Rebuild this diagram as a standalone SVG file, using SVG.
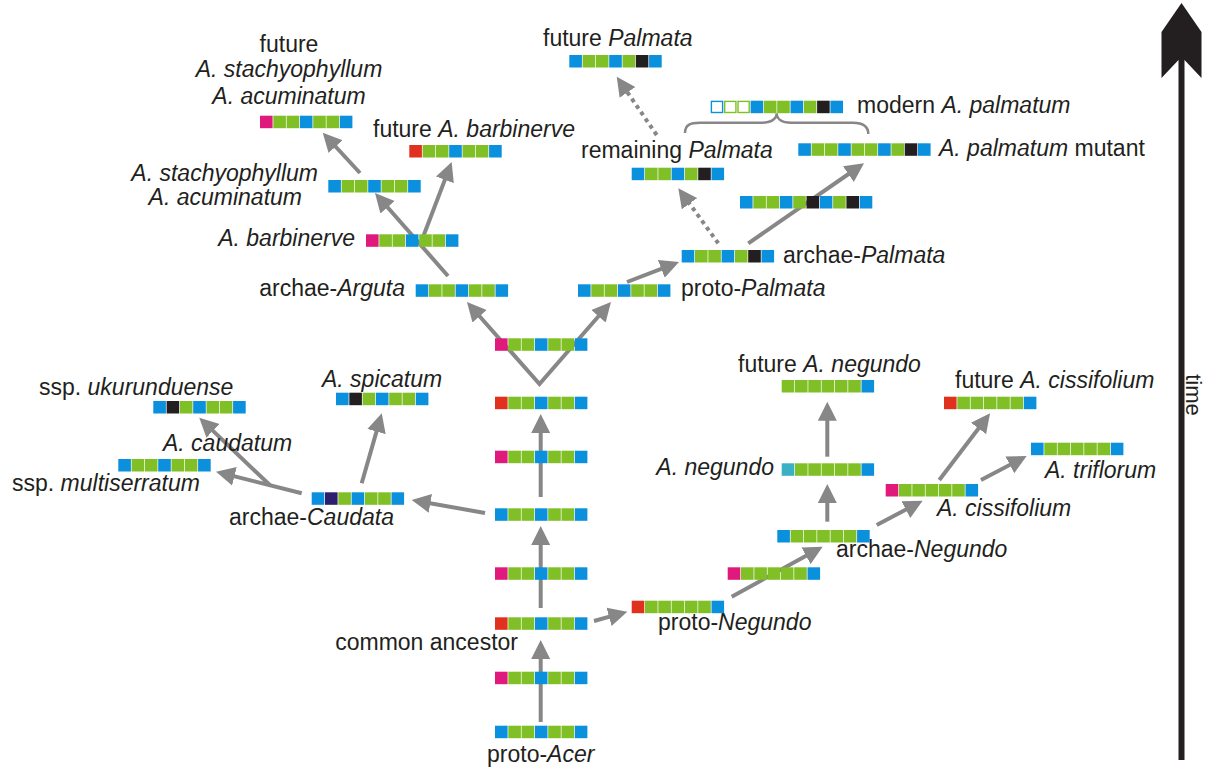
<svg xmlns="http://www.w3.org/2000/svg" width="1206" height="767" viewBox="0 0 1206 767">
<style>
  text{font-family:"Liberation Sans",Arial,sans-serif;font-size:23px;fill:#231f20}
  .i{font-style:italic}
  .b{fill:#0a90dc}
  .g{fill:#80c026}
  .p{fill:#e0197c}
  .r{fill:#e0301e}
  .k{fill:#231f20}
  .n{fill:#2b1f6e}
  .t{fill:#3bb0c4}
  .hb{fill:#fff;stroke:#0a90dc;stroke-width:1.4}
  .hg{fill:#fff;stroke:#80c026;stroke-width:1.4}
  .dot{stroke-dasharray:4 4}
</style>
<defs>
  <marker id="ah" markerUnits="userSpaceOnUse" markerWidth="20" markerHeight="20" viewBox="0 -10 20 20" refX="9" refY="0" orient="auto-start-reverse">
    <path d="M0,-9.5 L19,0 L0,9.5 Z" fill="#878787"/>
  </marker>
</defs>
<rect width="1206" height="767" fill="#fff"/>

<!-- connectors -->
<g id="connectors" fill="none" stroke="#878787" stroke-width="4">
  <g marker-end="url(#ah)">
    <path d="M540.7 722 V650"/>
    <path d="M540.7 608 V536"/>
    <path d="M540.7 497 V424"/>
    <path d="M448 276 L381.6 200.5"/>
    <path d="M420 245 L448.1 171.4"/>
    <path d="M360 173 L329.5 140"/>
    <path d="M627 282 L669.7 265.6"/>
    <path d="M748.3 243.3 L855.8 169"/>
    <path class="dot" d="M718.3 243.3 L684.2 196.4"/>
    <path class="dot" d="M656.7 135 L622.4 85"/>
    <path d="M485 513 L421.5 501.7"/>
    <path d="M301.7 493.3 L225.7 474.1"/>
    <path d="M270 485.3 L206.5 424.6"/>
    <path d="M361.7 483.3 L379 422.9"/>
    <path d="M594 621 L617.7 614.4"/>
    <path d="M731.7 596.7 L813.9 551.5"/>
    <path d="M827.3 521.7 V494"/>
    <path d="M827.3 456.7 V411.7"/>
    <path d="M876.7 525 L913.8 505.4"/>
    <path d="M939.3 480 L984 421.3"/>
    <path d="M981 480 L1017.8 460.7"/>
  </g>
  <path d="M473.6 309.5 L539.5 384 L604.4 309.5" marker-start="url(#ah)" marker-end="url(#ah)"/>
  <!-- brace over the palmatum bars -->
  <path d="M685 133 C685 125 690 122.7 700 122.7 L762 122.7 C771 122.7 776.7 119 776.7 113.3 C776.7 119 782 122.7 791 122.7 L853 122.7 C863 122.7 868.3 126 868.3 134" stroke-width="2.5"/>
</g>

<!-- Arguta lineage -->
<g id="future-stachyophyllum">
  <text x="289" y="52" text-anchor="middle">future</text>
  <text class="i" x="289" y="77" text-anchor="middle">A. stachyophyllum</text>
  <text class="i" x="289" y="104" text-anchor="middle">A. acuminatum</text>
  <g transform="translate(260,115.7)"><rect class="p" width="12.6" height="12.5"/><rect class="g" x="13.3" width="12.6" height="12.5"/><rect class="g" x="26.6" width="12.6" height="12.5"/><rect class="b" x="39.9" width="12.6" height="12.5"/><rect class="g" x="53.2" width="12.6" height="12.5"/><rect class="g" x="66.5" width="12.6" height="12.5"/><rect class="b" x="79.8" width="12.6" height="12.5"/></g>
</g>
<g id="stachyophyllum">
  <text class="i" x="318" y="181" text-anchor="end">A. stachyophyllum</text>
  <text class="i" x="302" y="205" text-anchor="end">A. acuminatum</text>
  <g transform="translate(328.3,180)"><rect class="b" width="12.6" height="12.5"/><rect class="g" x="13.3" width="12.6" height="12.5"/><rect class="g" x="26.6" width="12.6" height="12.5"/><rect class="b" x="39.9" width="12.6" height="12.5"/><rect class="g" x="53.2" width="12.6" height="12.5"/><rect class="g" x="66.5" width="12.6" height="12.5"/><rect class="b" x="79.8" width="12.6" height="12.5"/></g>
</g>
<g id="future-barbinerve">
  <text x="373" y="137">future <tspan class="i">A. barbinerve</tspan></text>
  <g transform="translate(409.3,145)"><rect class="r" width="12.6" height="12.5"/><rect class="g" x="13.3" width="12.6" height="12.5"/><rect class="g" x="26.6" width="12.6" height="12.5"/><rect class="b" x="39.9" width="12.6" height="12.5"/><rect class="g" x="53.2" width="12.6" height="12.5"/><rect class="g" x="66.5" width="12.6" height="12.5"/><rect class="b" x="79.8" width="12.6" height="12.5"/></g>
</g>
<g id="barbinerve">
  <text class="i" x="355" y="246" text-anchor="end">A. barbinerve</text>
  <g transform="translate(366,234.3)"><rect class="p" width="12.6" height="12.5"/><rect class="g" x="13.3" width="12.6" height="12.5"/><rect class="g" x="26.6" width="12.6" height="12.5"/><rect class="b" x="39.9" width="12.6" height="12.5"/><rect class="g" x="53.2" width="12.6" height="12.5"/><rect class="g" x="66.5" width="12.6" height="12.5"/><rect class="b" x="79.8" width="12.6" height="12.5"/></g>
</g>
<g id="archae-arguta">
  <text x="405" y="296" text-anchor="end">archae-<tspan class="i">Arguta</tspan></text>
  <g transform="translate(415.7,284.3)"><rect class="b" width="12.6" height="12.5"/><rect class="g" x="13.3" width="12.6" height="12.5"/><rect class="g" x="26.6" width="12.6" height="12.5"/><rect class="b" x="39.9" width="12.6" height="12.5"/><rect class="g" x="53.2" width="12.6" height="12.5"/><rect class="g" x="66.5" width="12.6" height="12.5"/><rect class="b" x="79.8" width="12.6" height="12.5"/></g>
</g>

<!-- Palmata lineage -->
<g id="future-palmata">
  <text x="543" y="46">future <tspan class="i">Palmata</tspan></text>
  <g transform="translate(569.3,55)"><rect class="b" width="12.6" height="12.5"/><rect class="g" x="13.3" width="12.6" height="12.5"/><rect class="g" x="26.6" width="12.6" height="12.5"/><rect class="b" x="39.9" width="12.6" height="12.5"/><rect class="g" x="53.2" width="12.6" height="12.5"/><rect class="k" x="66.5" width="12.6" height="12.5"/><rect class="b" x="79.8" width="12.6" height="12.5"/></g>
</g>
<g id="remaining-palmata">
  <text x="581" y="158">remaining <tspan class="i">Palmata</tspan></text>
  <g transform="translate(631.7,167.7)"><rect class="b" width="12.6" height="12.5"/><rect class="g" x="13.3" width="12.6" height="12.5"/><rect class="g" x="26.6" width="12.6" height="12.5"/><rect class="b" x="39.9" width="12.6" height="12.5"/><rect class="g" x="53.2" width="12.6" height="12.5"/><rect class="k" x="66.5" width="12.6" height="12.5"/><rect class="b" x="79.8" width="12.6" height="12.5"/></g>
</g>
<g id="modern-palmatum">
  <text x="857" y="113">modern <tspan class="i">A. palmatum</tspan></text>
  <g transform="translate(710.7,100.7)"><rect class="hb" x="0.7" y="0.7" width="11.2" height="11.1"/><rect class="hg" x="14" y="0.7" width="11.2" height="11.1"/><rect class="hg" x="27.3" y="0.7" width="11.2" height="11.1"/><rect class="b" x="39.9" width="12.6" height="12.5"/><rect class="g" x="53.2" width="12.6" height="12.5"/><rect class="g" x="66.5" width="12.6" height="12.5"/><rect class="b" x="79.8" width="12.6" height="12.5"/><rect class="g" x="93.1" width="12.6" height="12.5"/><rect class="k" x="106.4" width="12.6" height="12.5"/><rect class="b" x="119.7" width="12.6" height="12.5"/></g>
</g>
<g id="palmatum-mutant">
  <text x="939" y="156"><tspan class="i">A. palmatum</tspan> mutant</text>
  <g transform="translate(798.3,143.3)"><rect class="b" width="12.6" height="12.5"/><rect class="g" x="13.3" width="12.6" height="12.5"/><rect class="g" x="26.6" width="12.6" height="12.5"/><rect class="b" x="39.9" width="12.6" height="12.5"/><rect class="g" x="53.2" width="12.6" height="12.5"/><rect class="g" x="66.5" width="12.6" height="12.5"/><rect class="b" x="79.8" width="12.6" height="12.5"/><rect class="g" x="93.1" width="12.6" height="12.5"/><rect class="k" x="106.4" width="12.6" height="12.5"/><rect class="b" x="119.7" width="12.6" height="12.5"/></g>
</g>
<g id="palmatum-intermediate">
  <g transform="translate(740,196)"><rect class="b" width="12.6" height="12.5"/><rect class="g" x="13.3" width="12.6" height="12.5"/><rect class="g" x="26.6" width="12.6" height="12.5"/><rect class="b" x="39.9" width="12.6" height="12.5"/><rect class="g" x="53.2" width="12.6" height="12.5"/><rect class="k" x="66.5" width="12.6" height="12.5"/><rect class="b" x="79.8" width="12.6" height="12.5"/><rect class="g" x="93.1" width="12.6" height="12.5"/><rect class="k" x="106.4" width="12.6" height="12.5"/><rect class="b" x="119.7" width="12.6" height="12.5"/></g>
</g>
<g id="archae-palmata">
  <text x="783" y="263">archae-<tspan class="i">Palmata</tspan></text>
  <g transform="translate(681.7,250)"><rect class="b" width="12.6" height="12.5"/><rect class="g" x="13.3" width="12.6" height="12.5"/><rect class="g" x="26.6" width="12.6" height="12.5"/><rect class="b" x="39.9" width="12.6" height="12.5"/><rect class="g" x="53.2" width="12.6" height="12.5"/><rect class="k" x="66.5" width="12.6" height="12.5"/><rect class="b" x="79.8" width="12.6" height="12.5"/></g>
</g>
<g id="proto-palmata">
  <text x="681" y="296">proto-<tspan class="i">Palmata</tspan></text>
  <g transform="translate(578,284.3)"><rect class="b" width="12.6" height="12.5"/><rect class="g" x="13.3" width="12.6" height="12.5"/><rect class="g" x="26.6" width="12.6" height="12.5"/><rect class="b" x="39.9" width="12.6" height="12.5"/><rect class="g" x="53.2" width="12.6" height="12.5"/><rect class="g" x="66.5" width="12.6" height="12.5"/><rect class="b" x="79.8" width="12.6" height="12.5"/></g>
</g>

<!-- main stem -->
<g id="stem-7">
  <g transform="translate(495,338.3)"><rect class="p" width="12.6" height="12.5"/><rect class="g" x="13.3" width="12.6" height="12.5"/><rect class="g" x="26.6" width="12.6" height="12.5"/><rect class="b" x="39.9" width="12.6" height="12.5"/><rect class="g" x="53.2" width="12.6" height="12.5"/><rect class="g" x="66.5" width="12.6" height="12.5"/><rect class="b" x="79.8" width="12.6" height="12.5"/></g>
</g>
<g id="stem-6">
  <g transform="translate(495,396.7)"><rect class="r" width="12.6" height="12.5"/><rect class="g" x="13.3" width="12.6" height="12.5"/><rect class="g" x="26.6" width="12.6" height="12.5"/><rect class="b" x="39.9" width="12.6" height="12.5"/><rect class="g" x="53.2" width="12.6" height="12.5"/><rect class="g" x="66.5" width="12.6" height="12.5"/><rect class="b" x="79.8" width="12.6" height="12.5"/></g>
</g>
<g id="stem-5">
  <g transform="translate(495,450.7)"><rect class="p" width="12.6" height="12.5"/><rect class="g" x="13.3" width="12.6" height="12.5"/><rect class="g" x="26.6" width="12.6" height="12.5"/><rect class="b" x="39.9" width="12.6" height="12.5"/><rect class="g" x="53.2" width="12.6" height="12.5"/><rect class="g" x="66.5" width="12.6" height="12.5"/><rect class="b" x="79.8" width="12.6" height="12.5"/></g>
</g>
<g id="stem-4">
  <g transform="translate(495,508.3)"><rect class="b" width="12.6" height="12.5"/><rect class="g" x="13.3" width="12.6" height="12.5"/><rect class="g" x="26.6" width="12.6" height="12.5"/><rect class="b" x="39.9" width="12.6" height="12.5"/><rect class="g" x="53.2" width="12.6" height="12.5"/><rect class="g" x="66.5" width="12.6" height="12.5"/><rect class="b" x="79.8" width="12.6" height="12.5"/></g>
</g>
<g id="stem-3">
  <g transform="translate(495,567.3)"><rect class="p" width="12.6" height="12.5"/><rect class="g" x="13.3" width="12.6" height="12.5"/><rect class="g" x="26.6" width="12.6" height="12.5"/><rect class="b" x="39.9" width="12.6" height="12.5"/><rect class="g" x="53.2" width="12.6" height="12.5"/><rect class="g" x="66.5" width="12.6" height="12.5"/><rect class="b" x="79.8" width="12.6" height="12.5"/></g>
</g>
<g id="common-ancestor">
  <text x="518" y="650" text-anchor="end">common ancestor</text>
  <g transform="translate(495,617.3)"><rect class="r" width="12.6" height="12.5"/><rect class="g" x="13.3" width="12.6" height="12.5"/><rect class="g" x="26.6" width="12.6" height="12.5"/><rect class="b" x="39.9" width="12.6" height="12.5"/><rect class="g" x="53.2" width="12.6" height="12.5"/><rect class="g" x="66.5" width="12.6" height="12.5"/><rect class="b" x="79.8" width="12.6" height="12.5"/></g>
</g>
<g id="stem-1">
  <g transform="translate(495,671.7)"><rect class="p" width="12.6" height="12.5"/><rect class="g" x="13.3" width="12.6" height="12.5"/><rect class="g" x="26.6" width="12.6" height="12.5"/><rect class="b" x="39.9" width="12.6" height="12.5"/><rect class="g" x="53.2" width="12.6" height="12.5"/><rect class="g" x="66.5" width="12.6" height="12.5"/><rect class="b" x="79.8" width="12.6" height="12.5"/></g>
</g>
<g id="proto-acer">
  <text x="487" y="762">proto-<tspan class="i">Acer</tspan></text>
  <g transform="translate(495,725.7)"><rect class="b" width="12.6" height="12.5"/><rect class="g" x="13.3" width="12.6" height="12.5"/><rect class="g" x="26.6" width="12.6" height="12.5"/><rect class="b" x="39.9" width="12.6" height="12.5"/><rect class="g" x="53.2" width="12.6" height="12.5"/><rect class="g" x="66.5" width="12.6" height="12.5"/><rect class="b" x="79.8" width="12.6" height="12.5"/></g>
</g>

<!-- Caudata lineage -->
<g id="ukurunduense">
  <text x="39" y="395">ssp. <tspan class="i">ukurunduense</tspan></text>
  <g transform="translate(153.3,401)"><rect class="b" width="12.6" height="12.5"/><rect class="k" x="13.3" width="12.6" height="12.5"/><rect class="g" x="26.6" width="12.6" height="12.5"/><rect class="b" x="39.9" width="12.6" height="12.5"/><rect class="g" x="53.2" width="12.6" height="12.5"/><rect class="g" x="66.5" width="12.6" height="12.5"/><rect class="b" x="79.8" width="12.6" height="12.5"/></g>
</g>
<g id="spicatum">
  <text class="i" x="322" y="387">A. spicatum</text>
  <g transform="translate(336,392.7)"><rect class="b" width="12.6" height="12.5"/><rect class="k" x="13.3" width="12.6" height="12.5"/><rect class="g" x="26.6" width="12.6" height="12.5"/><rect class="b" x="39.9" width="12.6" height="12.5"/><rect class="g" x="53.2" width="12.6" height="12.5"/><rect class="g" x="66.5" width="12.6" height="12.5"/><rect class="b" x="79.8" width="12.6" height="12.5"/></g>
</g>
<g id="multiserratum">
  <text class="i" x="163" y="451">A. caudatum</text>
  <text x="12" y="491">ssp. <tspan class="i">multiserratum</tspan></text>
  <g transform="translate(118.3,459)"><rect class="b" width="12.6" height="12.5"/><rect class="g" x="13.3" width="12.6" height="12.5"/><rect class="g" x="26.6" width="12.6" height="12.5"/><rect class="b" x="39.9" width="12.6" height="12.5"/><rect class="g" x="53.2" width="12.6" height="12.5"/><rect class="g" x="66.5" width="12.6" height="12.5"/><rect class="b" x="79.8" width="12.6" height="12.5"/></g>
</g>
<g id="archae-caudata">
  <text x="229" y="525">archae-<tspan class="i">Caudata</tspan></text>
  <g transform="translate(311.7,492.3)"><rect class="b" width="12.6" height="12.5"/><rect class="n" x="13.3" width="12.6" height="12.5"/><rect class="g" x="26.6" width="12.6" height="12.5"/><rect class="b" x="39.9" width="12.6" height="12.5"/><rect class="g" x="53.2" width="12.6" height="12.5"/><rect class="g" x="66.5" width="12.6" height="12.5"/><rect class="b" x="79.8" width="12.6" height="12.5"/></g>
</g>

<!-- Negundo lineage -->
<g id="future-negundo">
  <text x="738" y="372">future <tspan class="i">A. negundo</tspan></text>
  <g transform="translate(781.7,380)"><rect class="g" width="12.6" height="12.5"/><rect class="g" x="13.3" width="12.6" height="12.5"/><rect class="g" x="26.6" width="12.6" height="12.5"/><rect class="g" x="39.9" width="12.6" height="12.5"/><rect class="g" x="53.2" width="12.6" height="12.5"/><rect class="g" x="66.5" width="12.6" height="12.5"/><rect class="b" x="79.8" width="12.6" height="12.5"/></g>
</g>
<g id="negundo">
  <text class="i" x="774" y="475" text-anchor="end">A. negundo</text>
  <g transform="translate(781.7,463.3)"><rect class="t" width="12.6" height="12.5"/><rect class="g" x="13.3" width="12.6" height="12.5"/><rect class="g" x="26.6" width="12.6" height="12.5"/><rect class="g" x="39.9" width="12.6" height="12.5"/><rect class="g" x="53.2" width="12.6" height="12.5"/><rect class="g" x="66.5" width="12.6" height="12.5"/><rect class="b" x="79.8" width="12.6" height="12.5"/></g>
</g>
<g id="archae-negundo">
  <text x="836" y="557">archae-<tspan class="i">Negundo</tspan></text>
  <g transform="translate(777.3,530)"><rect class="b" width="12.6" height="12.5"/><rect class="g" x="13.3" width="12.6" height="12.5"/><rect class="g" x="26.6" width="12.6" height="12.5"/><rect class="g" x="39.9" width="12.6" height="12.5"/><rect class="g" x="53.2" width="12.6" height="12.5"/><rect class="g" x="66.5" width="12.6" height="12.5"/><rect class="b" x="79.8" width="12.6" height="12.5"/></g>
</g>
<g id="negundo-step">
  <g transform="translate(727.7,567.3)"><rect class="p" width="12.6" height="12.5"/><rect class="g" x="13.3" width="12.6" height="12.5"/><rect class="g" x="26.6" width="12.6" height="12.5"/><rect class="g" x="39.9" width="12.6" height="12.5"/><rect class="g" x="53.2" width="12.6" height="12.5"/><rect class="g" x="66.5" width="12.6" height="12.5"/><rect class="b" x="79.8" width="12.6" height="12.5"/></g>
</g>
<g id="proto-negundo">
  <text x="658" y="630">proto-<tspan class="i">Negundo</tspan></text>
  <g transform="translate(631.7,600.7)"><rect class="r" width="12.6" height="12.5"/><rect class="g" x="13.3" width="12.6" height="12.5"/><rect class="g" x="26.6" width="12.6" height="12.5"/><rect class="g" x="39.9" width="12.6" height="12.5"/><rect class="g" x="53.2" width="12.6" height="12.5"/><rect class="g" x="66.5" width="12.6" height="12.5"/><rect class="b" x="79.8" width="12.6" height="12.5"/></g>
</g>
<g id="future-cissifolium">
  <text x="955" y="388">future <tspan class="i">A. cissifolium</tspan></text>
  <g transform="translate(944,396.7)"><rect class="r" width="12.6" height="12.5"/><rect class="g" x="13.3" width="12.6" height="12.5"/><rect class="g" x="26.6" width="12.6" height="12.5"/><rect class="g" x="39.9" width="12.6" height="12.5"/><rect class="g" x="53.2" width="12.6" height="12.5"/><rect class="g" x="66.5" width="12.6" height="12.5"/><rect class="b" x="79.8" width="12.6" height="12.5"/></g>
</g>
<g id="triflorum">
  <text class="i" x="1045" y="478">A. triflorum</text>
  <g transform="translate(1031,442.7)"><rect class="b" width="12.6" height="12.5"/><rect class="g" x="13.3" width="12.6" height="12.5"/><rect class="g" x="26.6" width="12.6" height="12.5"/><rect class="g" x="39.9" width="12.6" height="12.5"/><rect class="g" x="53.2" width="12.6" height="12.5"/><rect class="g" x="66.5" width="12.6" height="12.5"/><rect class="b" x="79.8" width="12.6" height="12.5"/></g>
</g>
<g id="cissifolium">
  <text class="i" x="937" y="516">A. cissifolium</text>
  <g transform="translate(885.7,484)"><rect class="p" width="12.6" height="12.5"/><rect class="g" x="13.3" width="12.6" height="12.5"/><rect class="g" x="26.6" width="12.6" height="12.5"/><rect class="g" x="39.9" width="12.6" height="12.5"/><rect class="g" x="53.2" width="12.6" height="12.5"/><rect class="g" x="66.5" width="12.6" height="12.5"/><rect class="b" x="79.8" width="12.6" height="12.5"/></g>
</g>

<!-- time axis -->
<g id="time-axis">
  <rect x="1178.5" y="56" width="6" height="704" fill="#231f20"/>
  <path d="M1181.5 3 L1201.5 32 L1201.5 78 L1184.5 60 L1178.5 60 L1161.5 78 L1161.5 32 Z" fill="#231f20"/>
  <text transform="translate(1186,395) rotate(90)" text-anchor="middle" style="font-size:22px">time</text>
</g>
</svg>
